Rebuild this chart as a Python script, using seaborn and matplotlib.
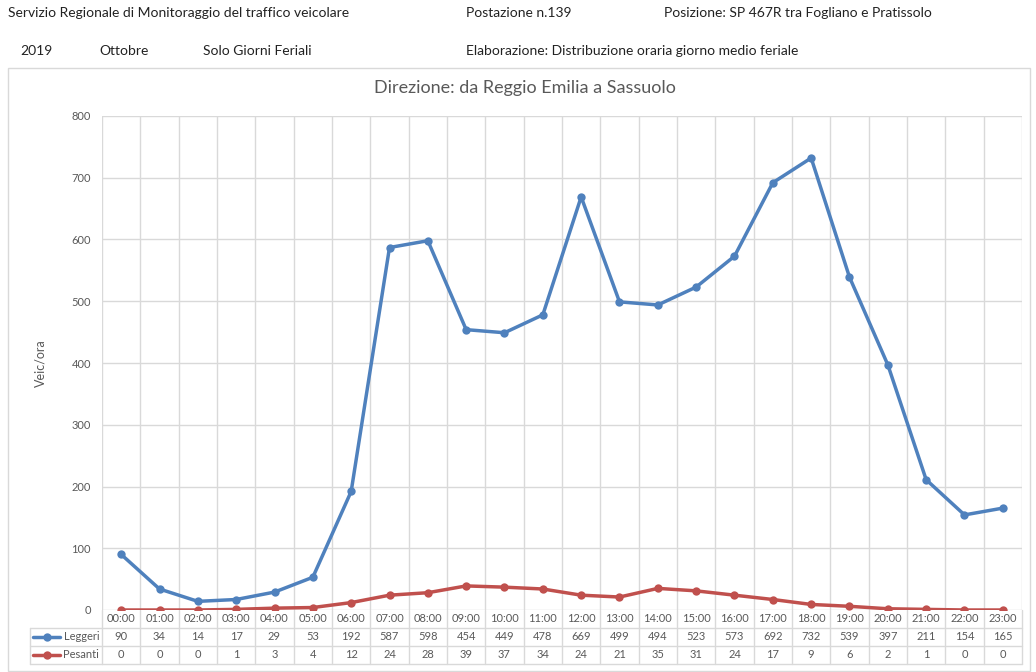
import numpy as np
import pandas as pd
import matplotlib
matplotlib.use("Agg")
import matplotlib.pyplot as plt
import matplotlib.transforms as mtransforms
from matplotlib.patches import Rectangle
from matplotlib.lines import Line2D
import seaborn as sns

# dati
ore = ["%02d:00" % h for h in range(24)]
leggeri = [90, 34, 14, 17, 29, 53, 192, 587, 598, 454, 449, 478,
           669, 499, 494, 523, 573, 692, 732, 539, 397, 211, 154, 165]
pesanti = [0, 0, 0, 1, 3, 4, 12, 24, 28, 39, 37, 34,
           24, 21, 35, 31, 24, 17, 9, 6, 2, 1, 0, 0]
serie = ["Leggeri", "Pesanti"]
colori = {"Leggeri": "#4F81BD", "Pesanti": "#C0504D"}

df = pd.DataFrame({
    "pos": list(range(24)) * 2,
    "val": leggeri + pesanti,
    "serie": ["Leggeri"] * 24 + ["Pesanti"] * 24,
})

sns.set_theme(style="white")
plt.rcParams["font.family"] = ["Lato", "DejaVu Sans"]

W, H = 1036, 672
fig = plt.figure(figsize=(W / 100, H / 100), dpi=100)

def px(x, y):
    return x / W, 1 - y / H

# cornice del grafico
fig.patches.append(Rectangle(px(8, 671), (1030 - 8) / W, (671 - 68) / H,
                             transform=fig.transFigure, fill=False,
                             edgecolor="#D9D9D9", lw=1))

# intestazione
hdr = dict(fontsize=10, color="#222222", va="center", ha="left")
fig.text(*px(8, 13), "Servizio Regionale di Monitoraggio del traffico veicolare", **hdr)
fig.text(*px(466, 13), "Postazione n.139", **hdr)
fig.text(*px(664, 13), "Posizione: SP 467R tra Fogliano e Pratissolo", **hdr)
fig.text(*px(20, 51), "2019", **hdr)
fig.text(*px(99, 51), "Ottobre", **hdr)
fig.text(*px(203, 51), "Solo Giorni Feriali", **hdr)
fig.text(*px(466, 51), "Elaborazione: Distribuzione oraria giorno medio feriale", **hdr)

fig.text(*px(525, 88), "Direzione: da Reggio Emilia a Sassuolo",
         fontsize=13, color="#595959", ha="center", va="center")

left, right, top, bottom = 102, 1022, 116, 610
ax = fig.add_axes([left / W, 1 - bottom / H, (right - left) / W, (bottom - top) / H])

sns.lineplot(data=df, x="pos", y="val", hue="serie", palette=colori,
             marker="o", markersize=6, markeredgewidth=0, linewidth=2.5,
             legend=False, ax=ax, zorder=3)

ax.set_xlim(-0.5, 23.5)
ax.set_ylim(0, 800)
ax.set_yticks(range(0, 801, 100))
ax.set_xticks([])
ax.set_xticks(np.arange(-0.5, 24, 1), minor=True)
ax.grid(True, which="major", axis="y", color="#D9D9D9", lw=1)
ax.grid(True, which="minor", axis="x", color="#D9D9D9", lw=1)
ax.tick_params(axis="y", labelsize=8, labelcolor="#595959", length=0, pad=8)
ax.tick_params(axis="x", which="minor", length=0)
for s in ax.spines.values():
    s.set_visible(False)
ax.set_xlabel("")
ax.set_ylabel("Veic/ora", fontsize=9, color="#595959", labelpad=18)

# tabella dati sotto il grafico
row_h = 18 / (bottom - top)
trans = mtransforms.blended_transform_factory(ax.transData, ax.transAxes)
gcol = "#D9D9D9"
righe = [ore, [str(v) for v in leggeri], [str(v) for v in pesanti]]
for r, vals in enumerate(righe):
    yc = -(r + 0.5) * row_h
    for i, t in enumerate(vals):
        ax.text(i, yc, t, transform=trans, ha="center", va="center",
                fontsize=8, color="#595959", clip_on=False)
# linee della tabella
for k in np.arange(-0.5, 24, 1):
    ax.add_line(Line2D([k, k], [0, -3 * row_h], transform=trans,
                       color=gcol, lw=1, clip_on=False))
for r in range(1, 4):
    ax.add_line(Line2D([-0.5, 23.5], [-r * row_h, -r * row_h], transform=trans,
                       color=gcol, lw=1, clip_on=False))

# etichette con legenda
x0 = (30 - left) / (right - left)
tra = ax.transAxes
for r in (1, 2, 3):
    ax.add_line(Line2D([x0, 0], [-r * row_h, -r * row_h], transform=tra,
                       color=gcol, lw=1, clip_on=False))
ax.add_line(Line2D([x0, x0], [-row_h, -3 * row_h], transform=tra,
                   color=gcol, lw=1, clip_on=False))
for r, nome in enumerate(serie, start=1):
    yc = -(r + 0.5) * row_h
    xa = (33 - left) / (right - left)
    xb = (60 - left) / (right - left)
    xm = (47 - left) / (right - left)
    ax.add_line(Line2D([xa, xb], [yc, yc], transform=tra, color=colori[nome],
                       lw=2.5, clip_on=False))
    ax.add_line(Line2D([xm], [yc], transform=tra, color=colori[nome],
                       marker="o", markersize=6, markeredgewidth=0, clip_on=False))
    ax.text(-0.003, yc, nome, transform=tra, ha="right", va="center",
            fontsize=8, color="#595959", clip_on=False)

fig.savefig("out.png", dpi=100)
